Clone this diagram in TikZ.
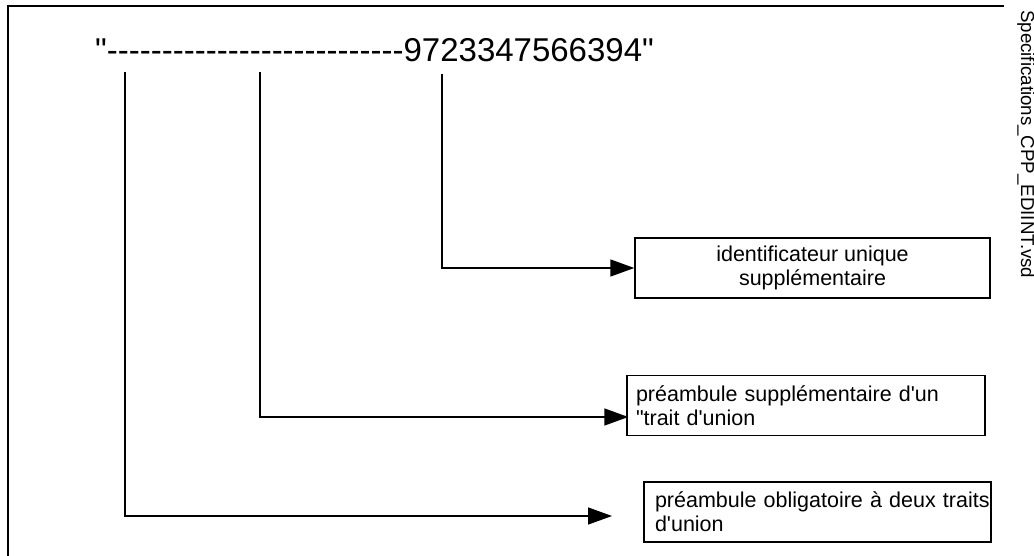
\documentclass[tikz,border=0pt]{standalone}
\usepackage{fontspec}
\setmainfont{Liberation Sans}[Ligatures=TeXOff]
\usepackage{tikz}
\usetikzlibrary{arrows.meta}

\begin{document}
\begin{tikzpicture}[x=1pt, y=-1pt, boxnode/.style={rectangle, draw=black, line width=1.4pt, minimum height=60pt, inner sep=0pt, font=\fontsize{21.5}{24}\selectfont}]
            \useasboundingbox (0,0) rectangle (1034,556);
            \draw[line width=2pt] (8,556) -- (8,6) -- (1004,6);

            \node[anchor=base west, inner sep=0pt, font=\fontsize{33}{36}\selectfont] (code) at (95,62) {"---------------------------9723347566394"};
            \node[rotate=-90, anchor=base west, inner sep=0pt, font=\fontsize{18.7}{20}\selectfont] (fname) at (1021,10) {Specifications\_CPP\_EDIINT.vsd};

            \node[boxnode, minimum width=355pt, align=center] (ident) at (812.5,268) {identificateur unique\\supplémentaire};
            \node[boxnode, inner xsep=9pt, text width=340pt, align=left] (pre2) at (806,405.5) {préambule supplémentaire d'un\\"trait d'union};
            \node[boxnode, inner xsep=11pt, text width=325pt, align=left] (pre3) at (817.5,512) {\mbox{préambule obligatoire à deux traits}\\d'union};

            \coordinate (a1) at (125,72);
            \coordinate (a2) at (260,72);
            \coordinate (a3) at (442,74);
            \coordinate (t1) at (612,516);

            \tikzset{conn/.style={line width=1.4pt, -{Triangle[length=24pt, width=17pt]}}}

            \draw[conn] (a3) |- (ident.west);
            \draw[conn] (a2) |- ([xshift=2pt, yshift=-11.5pt]pre2.west);
            \draw[conn] (a1) |- (t1);

        \end{tikzpicture}
\end{document}
